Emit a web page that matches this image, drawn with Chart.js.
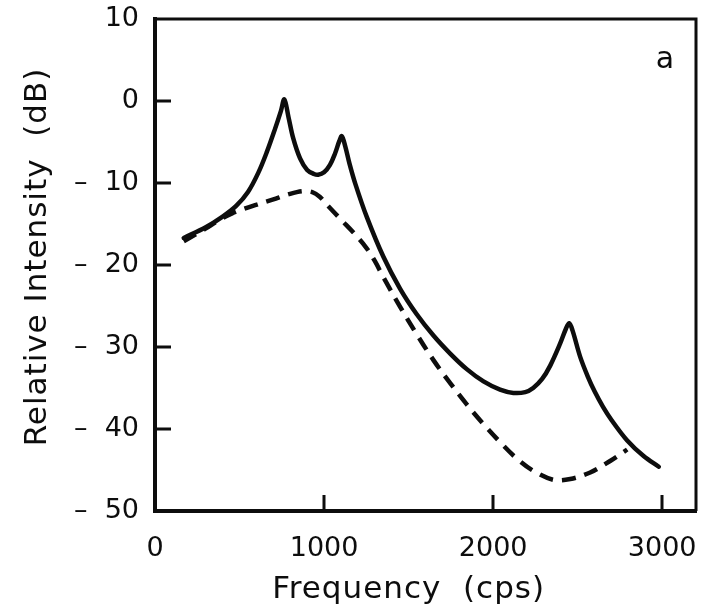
<!DOCTYPE html>
<html>
<head>
<meta charset="utf-8">
<script src="https://cdn.jsdelivr.net/npm/chart.js@4.4.1/dist/chart.umd.min.js"></script>
<style>
  html, body { margin: 0; padding: 0; background: #fff; }
</style>
</head>
<body>
<canvas id="spectrum-chart" width="702" height="608"></canvas>
<script>
const FONT = "'DejaVu Sans', sans-serif";
const INK = "#0d0d0d";

// Spectrum envelope with the formant peaks (solid line)
const solidFreq = [170, 300, 400, 480, 550, 610, 660, 710, 745, 765, 790, 817, 858, 900, 940, 965, 1000, 1035, 1065, 1090, 1105, 1125, 1150, 1185, 1252, 1351, 1450, 1548, 1647, 1746, 1844, 1943, 2041, 2120, 2190, 2237, 2290, 2337, 2396, 2430, 2450, 2470, 2515, 2560, 2600, 2650, 2700, 2793, 2890, 2980];
const solidLevel = [-16.7, -15.4, -14.1, -12.8, -11.1, -8.8, -6.3, -3.4, -1.2, 0.2, -2.0, -4.5, -7.0, -8.4, -8.9, -9.0, -8.7, -7.8, -6.4, -4.9, -4.3, -5.5, -7.6, -10.1, -14.1, -19.0, -22.9, -26.0, -28.6, -30.8, -32.7, -34.2, -35.2, -35.6, -35.5, -35.0, -33.9, -32.3, -29.6, -27.8, -27.1, -28.0, -31.2, -33.6, -35.4, -37.3, -38.9, -41.4, -43.3, -44.6];

// Smoothed envelope (dashed line)
const dashedFreq = [170, 296, 380, 456, 520, 592, 700, 787, 870, 930, 976, 1024, 1107, 1172, 1250, 1300, 1351, 1450, 1550, 1647, 1746, 1844, 1943, 2041, 2140, 2238, 2357, 2456, 2574, 2692, 2793];
const dashedLevel = [-17.1, -15.6, -14.5, -13.7, -13.2, -12.7, -12.0, -11.4, -11.0, -11.1, -11.7, -12.8, -14.6, -16.0, -17.9, -19.5, -21.5, -25.1, -28.5, -31.6, -34.4, -37.0, -39.4, -41.6, -43.6, -45.1, -46.2, -46.1, -45.3, -43.9, -42.5];

const xTickValues = [0, 1000, 2000, 3000];
const xTickMarks = [1000, 2000, 3000];
const yTickMarks = [0, -10, -20, -30, -40];

const toPoints = (xs, ys) => xs.map((x, i) => ({ x: x, y: ys[i] }));

const formatLevel = (v) => (v < 0 ? "\u2013  " + Math.abs(v) : String(v));

// keep the plot box where the layout padding puts it
const noLabelPadding = (scale) => {
  scale.paddingTop = 0;
  scale.paddingBottom = 0;
  scale.paddingLeft = 0;
  scale.paddingRight = 0;
};

// Frame lines, inward ticks, axis titles and the panel letter
const framePlugin = {
  id: "frame",
  beforeDraw(chart) {
    const ctx = chart.ctx;
    ctx.save();
    ctx.fillStyle = "#fff";
    ctx.fillRect(0, 0, chart.width, chart.height);
    ctx.restore();
  },
  afterDraw(chart) {
    const ctx = chart.ctx;
    const area = chart.chartArea;
    const xs = chart.scales.x;
    const ys = chart.scales.y;
    ctx.save();
    ctx.strokeStyle = INK;
    ctx.lineCap = "butt";

    // top and right edges of the box
    ctx.lineWidth = 3;
    ctx.beginPath();
    ctx.moveTo(area.left, area.top);
    ctx.lineTo(area.right, area.top);
    ctx.lineTo(area.right, area.bottom);
    ctx.stroke();

    // tick marks pointing into the plot
    ctx.beginPath();
    yTickMarks.forEach((v) => {
      const py = Math.round(ys.getPixelForValue(v));
      ctx.moveTo(area.left, py);
      ctx.lineTo(area.left + 16, py);
    });
    xTickMarks.forEach((v) => {
      const px = Math.round(xs.getPixelForValue(v));
      ctx.moveTo(px, area.bottom);
      ctx.lineTo(px, area.bottom - 16);
    });
    ctx.stroke();

    ctx.fillStyle = INK;
    ctx.font = "31px " + FONT;
    ctx.letterSpacing = "1px";
    ctx.textBaseline = "alphabetic";

    // x axis title
    ctx.textAlign = "center";
    ctx.fillText("Frequency  (cps)", (xs.getPixelForValue(0) + xs.getPixelForValue(3000)) / 2, 598);

    // y axis title
    ctx.save();
    ctx.translate(46, (area.top + area.bottom) / 2 - 8);
    ctx.rotate(-Math.PI / 2);
    ctx.fillText("Relative Intensity  (dB)", 0, 0);
    ctx.restore();

    // panel letter
    ctx.letterSpacing = "0px";
    ctx.font = "30px " + FONT;
    ctx.fillText("a", area.right - 31, 68);
    ctx.restore();
  },
};

const config = {
  type: "line",
  data: {
    datasets: [
      {
        label: "Envelope",
        data: toPoints(solidFreq, solidLevel),
        borderColor: INK,
        borderWidth: 4.5,
        borderCapStyle: "round",
        borderJoinStyle: "round",
        pointRadius: 0,
        tension: 0.35,
        fill: false,
      },
      {
        label: "Smoothed",
        data: toPoints(dashedFreq, dashedLevel),
        borderColor: INK,
        borderWidth: 4.5,
        borderDash: [14, 9],
        borderCapStyle: "butt",
        pointRadius: 0,
        tension: 0.35,
        fill: false,
      },
    ],
  },
  options: {
    responsive: false,
    animation: false,
    devicePixelRatio: 1,
    layout: {
      padding: { top: 19, right: 6, left: 0, bottom: 0 },
    },
    plugins: {
      legend: { display: false },
      tooltip: { enabled: false },
    },
    scales: {
      x: {
        type: "linear",
        min: 0,
        max: 3200,
        afterBuildTicks: (scale) => {
          scale.ticks = xTickValues.map((v) => ({ value: v }));
        },
        afterFit: (scale) => {
          scale.height = 97;
          noLabelPadding(scale);
        },
        grid: { drawOnChartArea: false, drawTicks: false },
        border: { display: true, color: INK, width: 4 },
        ticks: {
          color: INK,
          padding: 22,
          maxRotation: 0,
          font: { family: FONT, size: 27 },
          callback: (v) => String(v),
        },
        title: { display: false },
      },
      y: {
        min: -50,
        max: 10,
        afterFit: (scale) => {
          scale.width = 155;
          noLabelPadding(scale);
        },
        grid: { drawOnChartArea: false, drawTicks: false },
        border: { display: true, color: INK, width: 4 },
        ticks: {
          stepSize: 10,
          color: INK,
          padding: 16,
          font: { family: FONT, size: 27 },
          callback: (v) => formatLevel(v),
        },
        title: { display: false },
      },
    },
  },
  plugins: [framePlugin],
};

new Chart(document.getElementById("spectrum-chart"), config);
</script>
</body>
</html>
